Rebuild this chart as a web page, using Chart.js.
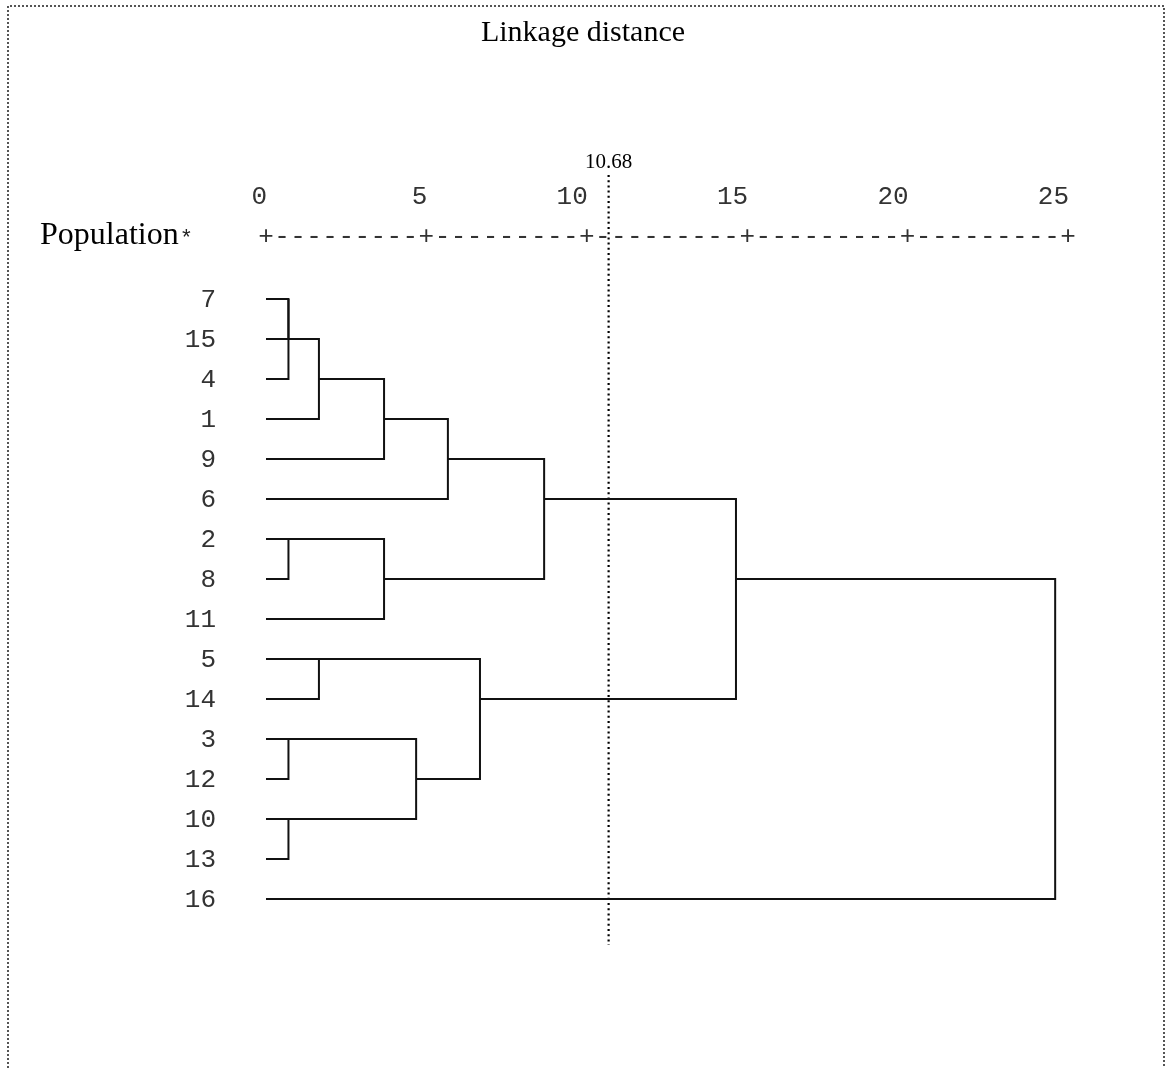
<!DOCTYPE html>
<html>
<head>
<meta charset="utf-8">
<title>Linkage distance</title>
<script src="https://cdn.jsdelivr.net/npm/chart.js@4/dist/chart.umd.min.js"></script>
<style>
  html, body { margin: 0; padding: 0; background: #fff; }
  #wrap { position: relative; width: 1166px; height: 1068px; overflow: hidden; }
  canvas { display: block; }
</style>
</head>
<body>
<div id="wrap"><canvas id="dendro" width="1166" height="1068"></canvas></div>
<script>
// Leaves of the dendrogram, top to bottom
const leafLabels = ['7', '15', '4', '1', '9', '6', '2', '8', '11', '5', '14', '3', '12', '10', '13', '16'];

// Agglomeration steps: node ids 0..15 are leaves, each step creates node 16, 17, ...
const mergeA = [0, 16, 17, 18, 19, 6, 21, 20, 9, 11, 13, 25, 24, 23, 29];
const mergeB = [1, 2, 3, 4, 5, 7, 8, 22, 10, 12, 14, 26, 27, 28, 15];
// Rescaled distance at which each step joins its two clusters
const mergeDistance = [0.7, 0.7, 1.65, 3.68, 5.67, 0.7, 3.68, 8.67, 1.65, 0.7, 0.7, 4.68, 6.67, 14.65, 24.6];

// Rescaled distance axis ticks
const tickValues = [0, 5, 10, 15, 20, 25];

// Cut-off level
const cutDistance = 10.68;

// Row and height of every node (leaves sit at height 0 on their own row)
const nodeRow = leafLabels.map((_, i) => i);
const nodeHeight = leafLabels.map(() => 0);
const treeSets = [];
mergeA.forEach((a, k) => {
  const b = mergeB[k];
  const d = mergeDistance[k];
  const ra = nodeRow[a], rb = nodeRow[b];
  treeSets.push({
    data: [
      { x: nodeHeight[a], y: ra },
      { x: d, y: ra },
      { x: d, y: rb },
      { x: nodeHeight[b], y: rb }
    ],
    showLine: true,
    borderColor: '#111',
    borderWidth: 2,
    pointRadius: 0,
    fill: false,
    tension: 0,
    clip: false
  });
  nodeRow.push(Math.floor((ra + rb) / 2));
  nodeHeight.push(d);
});

// Dotted cut line, spanning from just under its label to below the last leaf
const cutSet = {
  data: [{ x: cutDistance, y: -3.1 }, { x: cutDistance, y: 16.15 }],
  showLine: true,
  borderColor: '#000',
  borderWidth: 2.2,
  borderDash: [2, 3.2],
  pointRadius: 0,
  clip: false
};

const MONO = '"Liberation Mono", "DejaVu Sans Mono", monospace';
const SERIF = '"Liberation Serif", "DejaVu Serif", serif';

const decorations = {
  id: 'decorations',
  afterDraw(chart) {
    const ctx = chart.ctx;
    const xs = chart.scales.x;
    const ys = chart.scales.y;
    const top = chart.chartArea.top;
    ctx.save();

    // dotted frame
    ctx.strokeStyle = '#555';
    ctx.lineWidth = 2;
    ctx.setLineDash([2, 2]);
    ctx.beginPath();
    ctx.moveTo(8, 1068); ctx.lineTo(8, 6); ctx.lineTo(1164, 6); ctx.lineTo(1164, 1068);
    ctx.stroke();
    ctx.setLineDash([]);

    // title
    ctx.fillStyle = '#000';
    ctx.font = '30px ' + SERIF;
    ctx.textAlign = 'center';
    ctx.textBaseline = 'middle';
    ctx.fillText('Linkage distance', 583, 33);

    // cut level label
    ctx.font = '21px ' + SERIF;
    ctx.textBaseline = 'alphabetic';
    ctx.fillText(cutDistance.toFixed(2), xs.getPixelForValue(cutDistance), top - 131);

    // tick numbers
    ctx.font = '26px ' + MONO;
    ctx.fillStyle = '#333';
    ctx.textAlign = 'right';
    ctx.textBaseline = 'middle';
    tickValues.forEach(v => ctx.fillText(String(v), xs.getPixelForValue(v) + 1, top - 102));

    // "+---------+" ruler, one character per half unit
    ctx.textAlign = 'center';
    const lo = tickValues[0], hi = tickValues[tickValues.length - 1];
    for (let v = lo; v <= hi + 1e-9; v += 0.5) {
      const ch = (Math.abs(v % 5) < 1e-9) ? '+' : '-';
      ctx.fillText(ch, xs.getPixelForValue(v), top - 62);
    }

    // row header
    ctx.fillStyle = '#000';
    ctx.font = '32px ' + SERIF;
    ctx.textAlign = 'left';
    ctx.textBaseline = 'middle';
    ctx.fillText('Population', 40, top - 63);
    const pw = ctx.measureText('Population').width;
    ctx.font = '22px ' + MONO;
    ctx.fillStyle = '#222';
    ctx.fillText('*', 40 + pw + 1, top - 60);

    // leaf labels
    ctx.font = '26px ' + MONO;
    ctx.fillStyle = '#333';
    ctx.textAlign = 'right';
    leafLabels.forEach((lab, i) => ctx.fillText(lab, 216, ys.getPixelForValue(i) + 1));

    ctx.restore();
  }
};

new Chart(document.getElementById('dendro'), {
  type: 'scatter',
  data: { datasets: [...treeSets, cutSet] },
  options: {
    responsive: false,
    animation: false,
    events: [],
    layout: { padding: { left: 266, right: 98, top: 299, bottom: 169 } },
    plugins: { legend: { display: false }, tooltip: { enabled: false }, title: { display: false } },
    scales: {
      x: { type: 'linear', min: 0, max: 25, display: false },
      y: { type: 'linear', min: 0, max: 15, reverse: true, display: false }
    }
  },
  plugins: [decorations]
});
</script>
</body>
</html>
